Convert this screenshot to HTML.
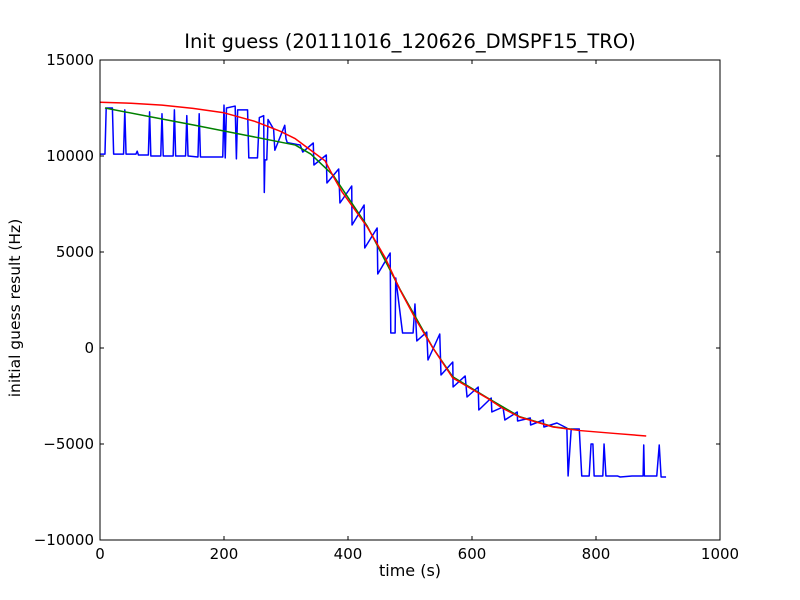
<!DOCTYPE html>
<html><head><meta charset="utf-8"><style>
body{margin:0;background:#fff;}
svg{display:block;font-family:"DejaVu Sans","Liberation Sans",sans-serif;}
</style></head><body>
<svg id="chart" width="800" height="600">
<rect width="800" height="600" fill="#fff"/>
<text x="410" y="48" font-size="19.5" text-anchor="middle">Init guess (20111016_120626_DMSPF15_TRO)</text>
<text x="410" y="576" font-size="16" text-anchor="middle">time (s)</text>
<text x="0" y="0" font-size="15.5" text-anchor="middle" transform="translate(20,308) rotate(-90)">initial guess result (Hz)</text>
<g id="marks"></g>
<g id="axes"></g>
</svg>
<script>
const xTicks=[0,200,400,600,800,1000];
const yTicks=[-10000,-5000,0,5000,10000,15000];
const yTickLabels=["\u221210000","\u22125000","0","5000","10000","15000"];
const blueT=[0,8,10,20,22,38,40,42,58,60,62,78,80,82,98,100,102,118,120,122,138,140,142,158,160,162,198,200,202,204,218,220,222,238,240,254,257,264,265,266,269,271,280,282,298,300,302,318,323,327,344,345,365,366,385,387,406,406.5,426,427,447,448,468,469,476,477,488,489,505,508,511,527,529,548,550,569,569.5,589,592,610,611,631,632,650,653,673,673.5,694,694.5,715,716,737,753,755,760,773,777,789,792,795,797,811,813,816,835,839,858,876,877,878,898,902,905,913];
const blueV=[10100,10100,12500,12500,10100,10100,12400,10100,10100,10250,10050,10050,12300,10000,10000,12200,10000,10000,12400,10000,10000,12100,10000,9950,12200,9950,9950,12650,9900,12500,12600,9850,12400,12400,9900,9900,12000,12100,8100,9800,9800,11900,11400,10300,11600,10900,10700,10600,10573,10208,10677,9531,10052,8594,9323,7552,8437,6406,7448,5208,6250,3854,4948,781,781,3646,781,781,781,2292,365,833,-625,729,-1406,-729,-2031,-1458,-2552,-2031,-3229,-2604,-3333,-3073,-3750,-3333,-3802,-3646,-4010,-3750,-4115,-3906,-4167,-6667,-4219,-4219,-6667,-6667,-5000,-5000,-6667,-6667,-5000,-6667,-6667,-6719,-6667,-6667,-5052,-6667,-6667,-5052,-6719,-6719];
const greenT=[8,80,153,240,315,340,376,431,484,537,569,624,677,731,766];
const greenV=[12500,12050,11600,11050,10570,10100,9000,6350,3050,0,-1500,-2580,-3580,-4100,-4250];
const redT=[0,50,100,150,200,250,290,315,340,363,376,390,431,460,484,510,537,569,600,624,650,677,731,774,830,881];
const redV=[12800,12750,12650,12480,12250,11800,11300,10900,10300,9750,8950,8150,6302,4700,3021,1450,0,-1560,-2150,-2600,-3150,-3600,-4115,-4300,-4450,-4583];

const X0=100,X1=720,Y0=540,Y1=60;
function sx(t){return X0+(t-0)/(1000-0)*(X1-X0);}
function sy(v){return Y0-(v+10000)/(25000)*(Y0-Y1);}
const NS="http://www.w3.org/2000/svg";
const marks=document.getElementById('marks');
function line(ts,vs,color,name){
  const p=document.createElementNS(NS,'polyline');
  p.setAttribute('points',ts.map((t,i)=>sx(t).toFixed(2)+','+sy(vs[i]).toFixed(2)).join(' '));
  p.setAttribute('fill','none');p.setAttribute('stroke',color);p.setAttribute('stroke-width','1.5');
  p.setAttribute('stroke-linejoin','round');
  
  
  marks.appendChild(p);
}
line(blueT,blueV,'#0000ff','blue-series');
line(greenT,greenV,'#008000','green-series');
line(redT,redV,'#ff0000','red-series');

const axes=document.getElementById('axes');
const fr=document.createElementNS(NS,'rect');
fr.setAttribute('x',X0);fr.setAttribute('y',Y1);fr.setAttribute('width',X1-X0);fr.setAttribute('height',Y0-Y1);
fr.setAttribute('fill','none');fr.setAttribute('stroke','#000');fr.setAttribute('stroke-width','1');


axes.appendChild(fr);
function tick(x1,y1,x2,y2){const l=document.createElementNS(NS,'line');l.setAttribute('x1',x1);l.setAttribute('y1',y1);l.setAttribute('x2',x2);l.setAttribute('y2',y2);l.setAttribute('stroke','#000');


axes.appendChild(l);}
function label(x,y,s,anchor,name){const t=document.createElementNS(NS,'text');t.setAttribute('x',x);t.setAttribute('y',y);t.setAttribute('font-size','15');t.setAttribute('text-anchor',anchor);t.textContent=s;


axes.appendChild(t);}
xTicks.forEach(v=>{const x=sx(v);tick(x,Y0,x,Y0-4);tick(x,Y1,x,Y1+4);label(x,Y0+19,String(v),'middle','x-tick-label');});
yTicks.forEach((v,i)=>{const y=sy(v);tick(X0,y,X0+4,y);tick(X1,y,X1-4,y);label(X0-6,y+5,yTickLabels[i],'end','y-tick-label');});
</script>
</body></html>
